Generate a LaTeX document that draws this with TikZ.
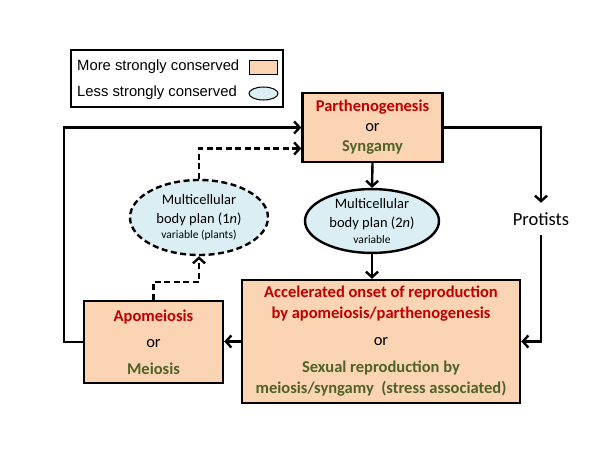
\documentclass[tikz,border=0pt]{standalone}
\usepackage{fontspec}
\setmainfont{Carlito}
\newfontfamily\legfont{Liberation Sans}
\usetikzlibrary{arrows.meta,shapes.geometric,calc}
\definecolor{peach}{HTML}{FBD4B4}
\definecolor{paleblue}{HTML}{DBEEF4}
\definecolor{redtxt}{HTML}{C00000}
\definecolor{greentxt}{HTML}{4F6228}
\tikzset{
  conn/.style={line width=2.4pt, -{Straight Barb[length=5.5pt,width=12pt,line width=2.4pt]}},
  dconn/.style={conn, dash pattern=on 6pt off 3.5pt},
  pbox/.style={draw, line width=2.4pt, fill=peach, rectangle, inner sep=0pt, align=center},
  bell/.style={draw, line width=2.4pt, fill=paleblue, ellipse, inner sep=0pt, align=center},
}
\newcommand{\redt}[1]{\textcolor{redtxt}{\bfseries #1}}
\newcommand{\grnt}[1]{\textcolor{greentxt}{\bfseries #1}}
\begin{document}
\begin{tikzpicture}[x=1pt,y=-1pt]
\useasboundingbox (0,0) rectangle (600,452);
% legend
\node[draw, line width=1.6pt, minimum width=212pt, minimum height=57pt, inner sep=0pt] (leg) at (177,78.5) {};
\node[anchor=west, inner sep=0pt, font=\legfont\fontsize{14.8}{16}\selectfont] (legA) at (77,67) {More strongly conserved};
\node[anchor=west, inner sep=0pt, font=\legfont\fontsize{14.8}{16}\selectfont] (legB) at (77,93) {Less strongly conserved};
\node[draw, line width=1pt, fill=peach, minimum width=28pt, minimum height=14pt, inner sep=0pt] (legR) at (263,68) {};
\node[draw, line width=1pt, fill=paleblue, ellipse, minimum width=29pt, minimum height=13pt, inner sep=0pt] (legE) at (263.5,93.5) {};
% main boxes
\node[pbox, minimum width=140pt, minimum height=69pt, font=\fontsize{16.5}{20}\selectfont] (P) at (372.5,127.5)
  {\redt{Parthenogenesis}\\ or\\ \grnt{Syngamy}};
\node[pbox, minimum width=139pt, minimum height=82pt, font=\fontsize{16.5}{20}\selectfont] (A) at (153.5,342)
  {\redt{Apomeiosis}\\[6.5pt] or\\[6.5pt] \grnt{Meiosis}};
\node[pbox, minimum width=278pt, minimum height=123pt, font=\fontsize{16.5}{21}\selectfont] (B) at (381,341.5)
  {\redt{Accelerated onset of reproduction}\\ \redt{by apomeiosis/parthenogenesis}\\[6pt] or\\[6pt] \grnt{Sexual reproduction by}\\ \grnt{meiosis/syngamy\ \ (stress associated)}};
\node[bell, minimum width=134pt, minimum height=63pt, font=\fontsize{14.5}{19}\selectfont] (E2) at (372,221)
  {Multicellular\\ body plan (2\textit{n})\\[-3pt] {\fontsize{11.5}{13}\selectfont variable}};
\node[bell, dash pattern=on 6pt off 3.5pt, minimum width=138pt, minimum height=75pt, font=\fontsize{14.5}{18.5}\selectfont] (E1) at (199,217.5)
  {Multicellular\\ body plan (1\textit{n})\\[-3pt] {\fontsize{11.5}{13}\selectfont variable (plants)}};
\node[inner sep=0pt, minimum height=32pt, font=\fontsize{18.5}{22}\selectfont] (Pr) at (541,219) {Protists};
% connectors
\draw[conn] (P.east) -| (Pr.north);
\draw[conn] (Pr.south) |- (B.east);
\draw[conn] (P.south) -- (E2.north);
\draw[conn] (E2.south) -- (E2.south |- B.north);
\draw[conn] (B.west) -- (B.west -| A.east);
\draw[conn] (A.west) -- ++(-19,0) |- (P.west);
\draw[dconn] (A.north) -- ++(0,-18) -| (E1.south);
\draw[dconn] (E1.north) |- ([yshift=-21pt]P.west);
\end{tikzpicture}
\end{document}
